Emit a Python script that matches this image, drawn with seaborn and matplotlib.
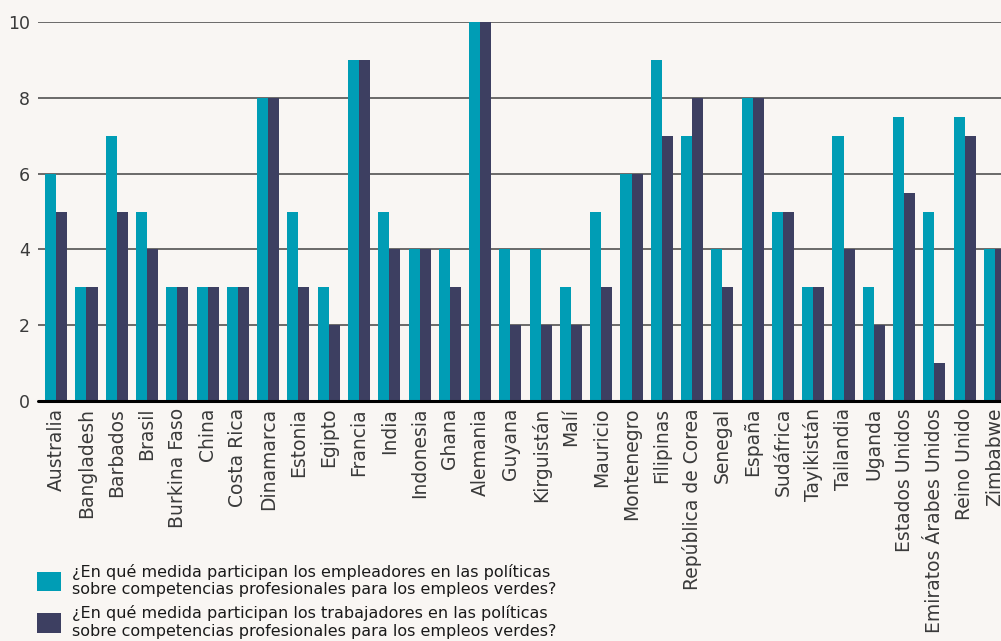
import matplotlib
matplotlib.use("Agg")
import matplotlib.pyplot as plt
import seaborn as sns
import pandas as pd

countries = ["Australia", "Bangladesh", "Barbados", "Brasil", "Burkina Faso", "China",
             "Costa Rica", "Dinamarca", "Estonia", "Egipto", "Francia", "India",
             "Indonesia", "Ghana", "Alemania", "Guyana", "Kirguistán", "Malí",
             "Mauricio", "Montenegro", "Filipinas", "República de Corea", "Senegal",
             "España", "Sudáfrica", "Tayikistán", "Tailandia", "Uganda",
             "Estados Unidos", "Emiratos Árabes Unidos", "Reino Unido", "Zimbabwe"]
empleadores = [6, 3, 7, 5, 3, 3, 3, 8, 5, 3, 9, 5, 4, 4, 10, 4, 4, 3, 5, 6, 9, 7, 4,
               8, 5, 3, 7, 3, 7.5, 5, 7.5, 4]
trabajadores = [5, 3, 5, 4, 3, 3, 3, 8, 3, 2, 9, 4, 4, 3, 10, 2, 2, 2, 3, 6, 7, 8, 3,
                8, 5, 3, 4, 2, 5.5, 1, 7, 4]
series_labels = [
    "¿En qué medida participan los empleadores en las políticas\nsobre competencias profesionales para los empleos verdes?",
    "¿En qué medida participan los trabajadores en las políticas\nsobre competencias profesionales para los empleos verdes?",
]
yticks = [0, 2, 4, 6, 8, 10]

colors = ["#009DB5", "#3D3F61"]
bg = "#F9F6F3"

df = pd.DataFrame({
    "pais": countries * 2,
    "valor": empleadores + trabajadores,
    "serie": [series_labels[0]] * len(countries) + [series_labels[1]] * len(countries),
})

sns.set_theme(style="white")
plt.rcParams["font.family"] = ["DejaVu Sans"]

fig = plt.figure(figsize=(10.01, 6.41), dpi=100, facecolor=bg)
ax = fig.add_axes([38 / 1001, 1 - 401 / 641, 1 - 38 / 1001, (401 - 22) / 641])
ax.set_facecolor(bg)

sns.barplot(data=df, x="pais", y="valor", hue="serie", palette=colors,
            width=0.73, gap=0, saturation=1, ax=ax, zorder=3, legend=True,
            linewidth=0, edgecolor="none")

ax.set_ylim(0, 10)
ax.set_xlim(-0.6, 31.2)
ax.set_yticks(yticks)
ax.set_yticklabels([str(t) for t in yticks], fontsize=12.5, color="#3a3a3a")
ax.tick_params(axis="both", length=0, pad=6)
ax.tick_params(axis="x", pad=5)
ax.set_xticks(range(len(countries)))
ax.set_xticklabels(countries, rotation=90, fontsize=13.5, color="#3a3a3a", va="top", ha="center")
ax.set_xlabel("")
ax.set_ylabel("")
for t in yticks[1:]:
    ax.axhline(t, color="#444444", lw=1.1, zorder=1)
ax.axhline(0, color="black", lw=2.2, zorder=4, clip_on=False)
for s in ax.spines.values():
    s.set_visible(False)

handles, labels = ax.get_legend_handles_labels()
ax.get_legend().remove()
fig.legend(handles, labels, loc="upper left", bbox_to_anchor=(37 / 1001, 1 - 564 / 641),
           frameon=False, fontsize=11.5, handlelength=1.5, handleheight=1.5,
           handletextpad=0.7, labelspacing=0.5, borderaxespad=0, borderpad=0,
           labelcolor="#1a1a1a")

fig.savefig("out.png", dpi=100, facecolor=bg)
